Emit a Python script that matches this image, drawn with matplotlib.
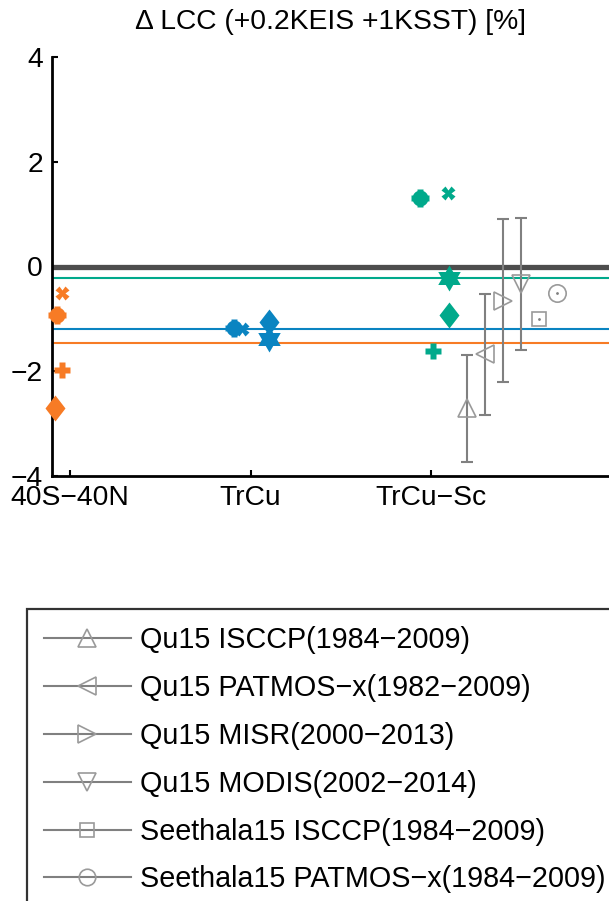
import matplotlib
matplotlib.use('Agg')
import matplotlib.pyplot as plt
import numpy as np
from matplotlib.lines import Line2D

plt.rcParams['font.family'] = ['Liberation Sans', 'DejaVu Sans']

# ---------------- data ----------------
regions = ['40S\u221240N', 'TrCu', 'TrCu\u2212Sc']
region_colors = ['#f77b25', '#0a84c1', '#00a98b']

# model results per region (nan = not shown)
blob_vals = [-0.93, -1.17, 1.31]
x_vals = [-0.50, -1.20, 1.40]
plus_vals = [-1.98, np.nan, -1.61]
diamond_vals = [-2.70, -1.06, -0.93]
hexagram_vals = [np.nan, -1.38, -0.22]
mean_lines = [-1.46, -1.20, -0.22]

# horizontal jitter of each model symbol around its region
blob_jit = [-0.07, -0.09, -0.06]
x_jit = [-0.043, -0.045, 0.094]
plus_jit = [-0.043, 0.0, 0.011]
diamond_jit = [-0.085, 0.10, 0.10]
hexagram_jit = [0.0, 0.10, 0.10]

# observational estimates (TrCu-Sc region)
obs_labels = ['Qu15 ISCCP(1984\u22122009)', 'Qu15 PATMOS\u2212x(1982\u22122009)',
              'Qu15 MISR(2000\u22122013)', 'Qu15 MODIS(2002\u22122014)',
              'Seethala15 ISCCP(1984\u22122009)', 'Seethala15 PATMOS\u2212x(1984\u22122009)']
obs_vals = [-2.71, -1.68, -0.65, -0.33, -1.01, -0.50]
obs_err = [1.02, 1.155, 1.56, 1.26, np.nan, np.nan]
obs_jit = [0.2, 0.3, 0.4, 0.5, 0.6, 0.7]
obs_markers = ['^', '<', '>', 'v', 's', 'o']
obs_ms = [13, 13, 13, 13, 10.5, 12.5]

title = '\u0394 LCC (+0.2KEIS +1KSST) [%]'

# ---------------- figure ----------------
W, H = 609, 901
fig = plt.figure(figsize=(W / 100, H / 100), dpi=100)
ax = fig.add_axes([52 / W, 1 - 476 / H, 1 - 52 / W, (476 - 57) / H])
ax.set_xlim(0.9, 3.986)
ax.set_ylim(-4, 4)

FS = 20.3
LFS = 20.7

# reference lines
ax.axhline(0, color='#4d4d4d', lw=3.8, zorder=2)
for v, c in zip(mean_lines, region_colors):
    ax.axhline(v, color=c, lw=1.5, zorder=2)

# custom markers
ang_o = np.deg2rad(90 + 60 * np.arange(6))
ang_i = np.deg2rad(120 + 60 * np.arange(6))
hexv = []
for a, b in zip(ang_o, ang_i):
    hexv.append((np.cos(a), np.sin(a)))
    hexv.append((np.cos(b) / np.sqrt(3), np.sin(b) / np.sqrt(3)))
hexv.append(hexv[0])
diav = [(0, 1), (0.77, 0), (0, -1), (-0.77, 0), (0, 1)]

xpos = np.arange(1, len(regions) + 1)
for i in range(len(regions)):
    c = region_colors[i]
    kw = dict(color=c, ls='none', clip_on=False, zorder=5)
    ax.plot(xpos[i] + blob_jit[i], blob_vals[i], marker='o', ms=11.5, mec='none', **kw)
    ax.plot(xpos[i] + blob_jit[i], blob_vals[i], marker='P', ms=12.5, mec='none', **kw)
    ax.plot(xpos[i] + x_jit[i], x_vals[i], marker='X', ms=9.8, mec='none', **kw)
    ax.plot(xpos[i] + plus_jit[i], plus_vals[i], marker='P', ms=12.2, mec='none', **kw)
    ax.plot(xpos[i] + diamond_jit[i], diamond_vals[i], marker=diav, ms=18.7, mec='none', **kw)
    ax.plot(xpos[i] + hexagram_jit[i], hexagram_vals[i], marker=hexv, ms=18.7, mec='none', **kw)

# observations
obs_x = xpos[2] + np.array(obs_jit)
gray = '#808080'
mgray = '#9a9a9a'
ax.errorbar(obs_x, obs_vals, yerr=obs_err, fmt='none', ecolor=gray,
            elinewidth=1.5, capsize=4.5, capthick=1.5, zorder=3)
handles = []
for xo, v, m, ms in zip(obs_x, obs_vals, obs_markers, obs_ms):
    ax.plot(xo, v, marker=m, ms=ms, mfc='none', mec=mgray, mew=1.2, ls='none', zorder=4)
    if m in ('s', 'o'):
        ax.plot(xo, v, marker='.', ms=2, color=gray, ls='none', zorder=4)
    handles.append(Line2D([], [], color=gray, lw=1.5, marker=m, ms=ms * 0.95,
                          mfc='none', mec=mgray, mew=1.2))

# axes styling
ax.set_xticks(xpos)
ax.set_xticklabels(regions, fontsize=FS)
ax.set_yticks([-4, -2, 0, 2, 4])
ax.set_yticklabels(['\u22124', '\u22122', '0', '2', '4'], fontsize=FS)
ax.tick_params(direction='in', length=4.3, width=1.5, pad=6.5)
for s in ('top', 'right'):
    ax.spines[s].set_visible(False)
for s in ('left', 'bottom'):
    ax.spines[s].set_linewidth(2.0)
    ax.spines[s].set_zorder(3)
ax.set_title(title, fontsize=FS, pad=20)

leg = fig.legend(handles, obs_labels, loc='upper left',
                 bbox_to_anchor=(27 / W, 1 - 609 / H), bbox_transform=fig.transFigure,
                 borderaxespad=0, fontsize=LFS, frameon=True, fancybox=False,
                 edgecolor='black', borderpad=0.6, handlelength=3.0,
                 handletextpad=0.32, labelspacing=0.69)
leg.get_frame().set_linewidth(1.6)

fig.savefig('out.png', dpi=100)
